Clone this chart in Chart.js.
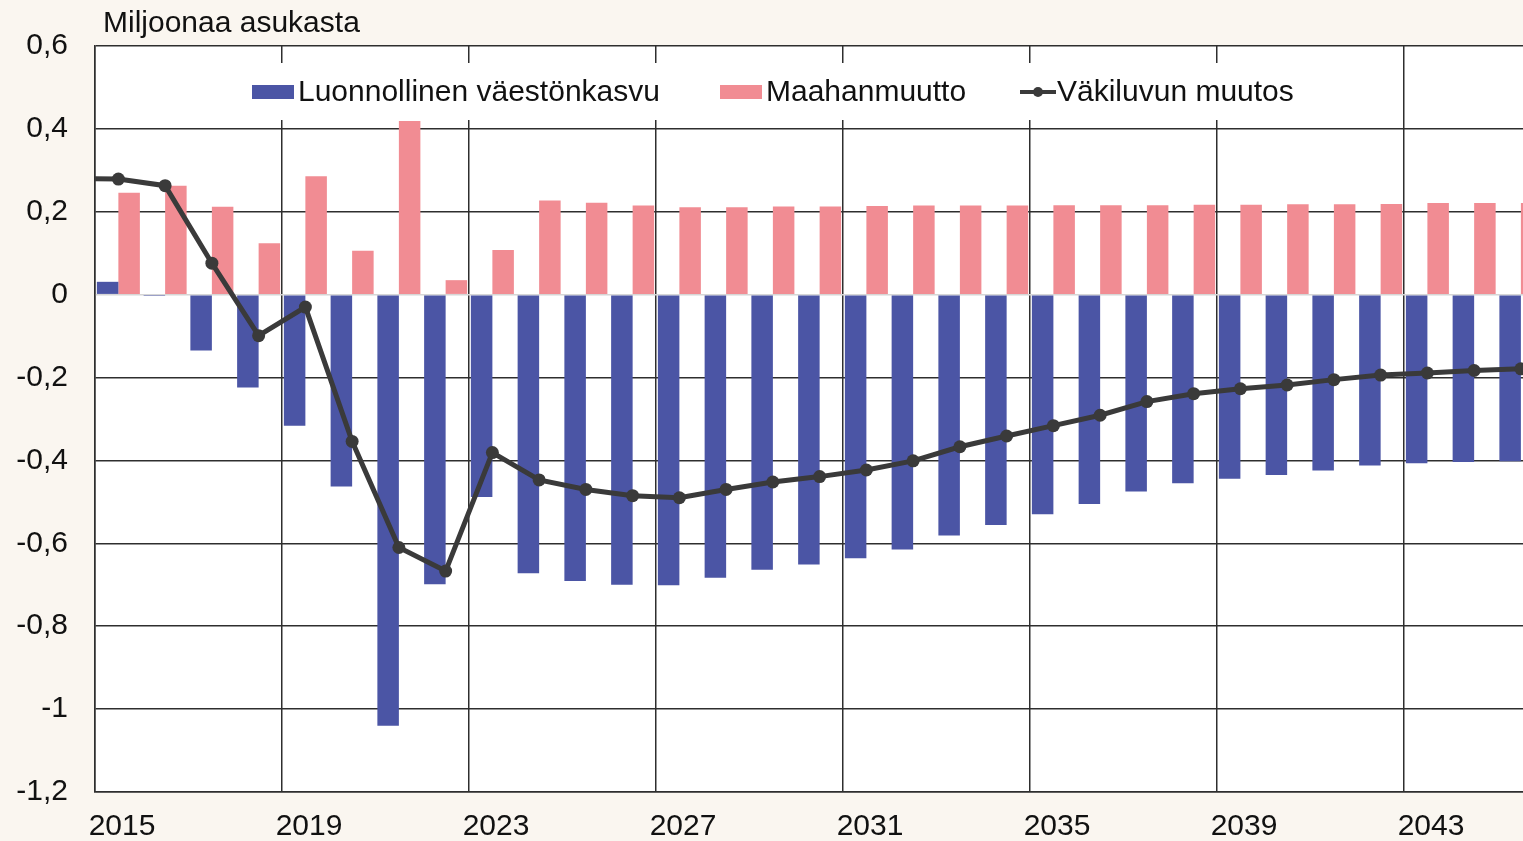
<!DOCTYPE html>
<html lang="fi">
<head>
<meta charset="UTF-8">
<title>Väkiluvun muutos</title>
<script src="https://cdn.jsdelivr.net/npm/chart.js"></script>
<style>
    html, body {
        margin: 0;
        padding: 0;
        overflow: hidden;
        background: #faf6f0;
    }
    .chartBox {
        width: 1523px;
        height: 841px;
    }
</style>
</head>
<body>
<div class="chartBox">
    <canvas id="chart"></canvas>
</div>
<script>
    // data (milj. asukasta)
    const years = [2015, 2016, 2017, 2018, 2019, 2020, 2021, 2022, 2023, 2024, 2025, 2026, 2027, 2028, 2029, 2030,
        2031, 2032, 2033, 2034, 2035, 2036, 2037, 2038, 2039, 2040, 2041, 2042, 2043, 2044, 2045];
    const luonnollinen = [0.031, -0.003, -0.135, -0.224, -0.316, -0.463, -1.04, -0.699, -0.488, -0.672, -0.691,
        -0.7, -0.701, -0.683, -0.664, -0.651, -0.636, -0.615, -0.581, -0.556, -0.53, -0.505, -0.475, -0.455,
        -0.444, -0.435, -0.424, -0.412, -0.407, -0.404, -0.402];
    const maahanmuutto = [0.246, 0.263, 0.212, 0.124, 0.286, 0.106, 0.419, 0.035, 0.108, 0.227, 0.222,
        0.215, 0.211, 0.211, 0.213, 0.213, 0.214, 0.215, 0.215, 0.215, 0.216, 0.216, 0.216, 0.217,
        0.217, 0.218, 0.218, 0.219, 0.221, 0.221, 0.221];
    // line starts one year earlier (only its end shows at the left edge)
    const lineYears = [2014].concat(years);
    const muutos = [0.28, 0.279, 0.263, 0.076, -0.099, -0.03, -0.354, -0.61, -0.667, -0.381, -0.447, -0.47,
        -0.485, -0.49, -0.47, -0.452, -0.439, -0.423, -0.401, -0.367, -0.341, -0.316, -0.291, -0.258,
        -0.239, -0.227, -0.218, -0.205, -0.194, -0.189, -0.183, -0.179];
    const xTickYears = [2015, 2019, 2023, 2027, 2031, 2035, 2039, 2043];
    const yTicks = [0.6, 0.4, 0.2, 0, -0.2, -0.4, -0.6, -0.8, -1, -1.2];

    const FONT = "'Liberation Sans', Arial, sans-serif";
    const BLUE = "#4b55a5";
    const PINK = "#f18c93";
    const LINE = "#3a3a3a";
    const GRID = "#2e2e2e";

    const toPts = (xs, ys) => xs.map((x, i) => ({ x: x, y: ys[i] }));

    // white plot area + unit title
    const background = {
        id: "background",
        beforeDraw(chart) {
            const { ctx, chartArea: { left, top, width, height } } = chart;
            ctx.save();
            ctx.fillStyle = "#ffffff";
            ctx.fillRect(left, top, width, height);
            ctx.restore();
        },
        afterDraw(chart) {
            const { ctx } = chart;
            ctx.save();
            ctx.font = "30px " + FONT;
            ctx.fillStyle = "#111";
            ctx.textBaseline = "alphabetic";
            ctx.fillText("Miljoonaa asukasta", 103, 32);
            ctx.restore();
        }
    };

    // legend inside the plot, on a white box over the grid
    const insideLegend = {
        id: "insideLegend",
        beforeDatasetsDraw(chart) {
            const { ctx } = chart;
            ctx.save();
            ctx.fillStyle = "#ffffff";
            ctx.fillRect(240, 63, 1090, 57);
            ctx.font = "30px " + FONT;
            ctx.textBaseline = "middle";
            const y = 92;
            const items = [
                { x: 252, type: "box", color: BLUE, text: "Luonnollinen väestönkasvu" },
                { x: 720, type: "box", color: PINK, text: "Maahanmuutto" },
                { x: 1020, type: "line", color: LINE, text: "Väkiluvun muutos" }
            ];
            items.forEach(it => {
                if (it.type === "box") {
                    ctx.fillStyle = it.color;
                    ctx.fillRect(it.x, y - 7, 42, 14);
                } else {
                    ctx.strokeStyle = it.color;
                    ctx.lineWidth = 4;
                    ctx.beginPath();
                    ctx.moveTo(it.x, y);
                    ctx.lineTo(it.x + 36, y);
                    ctx.stroke();
                    ctx.fillStyle = it.color;
                    ctx.beginPath();
                    ctx.arc(it.x + 18, y, 5, 0, Math.PI * 2);
                    ctx.fill();
                }
                ctx.fillStyle = "#111";
                ctx.fillText(it.text, it.x + (it.type === "box" ? 46 : 37), y + 1);
            });
            ctx.restore();
        }
    };

    const config = {
        type: "bar",
        data: {
            datasets: [
                {
                    type: "line",
                    label: "Väkiluvun muutos",
                    data: toPts(lineYears, muutos),
                    borderColor: LINE,
                    backgroundColor: LINE,
                    borderWidth: 5,
                    pointRadius: 6.5,
                    pointHoverRadius: 6.5,
                    pointBackgroundColor: LINE,
                    pointBorderWidth: 0,
                    tension: 0,
                    order: 0
                },
                {
                    label: "Luonnollinen väestönkasvu",
                    data: toPts(years, luonnollinen),
                    backgroundColor: BLUE,
                    borderWidth: 0,
                    categoryPercentage: 0.92,
                    barPercentage: 1.0,
                    order: 1
                },
                {
                    label: "Maahanmuutto",
                    data: toPts(years, maahanmuutto),
                    backgroundColor: PINK,
                    borderWidth: 0,
                    categoryPercentage: 0.92,
                    barPercentage: 1.0,
                    order: 2
                }
            ]
        },
        options: {
            responsive: true,
            maintainAspectRatio: false,
            animation: false,
            devicePixelRatio: 1,
            layout: { autoPadding: false, padding: { top: 46, left: 0, right: 0, bottom: 0 } },
            plugins: {
                legend: { display: false },
                tooltip: { enabled: false },
                title: { display: false }
            },
            scales: {
                x: {
                    type: "linear",
                    min: 2014.5,
                    max: 2045.045,
                    offset: false,
                    afterBuildTicks(scale) {
                        scale.ticks = xTickYears.map(v => ({ value: v - 0.5 }));
                    },
                    afterFit(scale) {
                        scale.height = 49;
                        scale.paddingLeft = 0;
                        scale.paddingRight = 0;
                    },
                    ticks: {
                        autoSkip: false,
                        maxRotation: 0,
                        labelOffset: 27,
                        padding: 17,
                        color: "#111",
                        font: { family: FONT, size: 30 },
                        callback: v => String(v + 0.5)
                    },
                    grid: {
                        offset: false,
                        color: GRID,
                        lineWidth: 1.5,
                        drawTicks: false
                    },
                    border: { display: true, color: GRID, width: 1.5 }
                },
                y: {
                    min: -1.2,
                    max: 0.6,
                    afterBuildTicks(scale) {
                        scale.ticks = yTicks.map(v => ({ value: v }));
                    },
                    afterFit(scale) {
                        scale.width = 95;
                    },
                    ticks: {
                        padding: 27,
                        color: "#111",
                        font: { family: FONT, size: 30 },
                        callback: v => String(Math.round(v * 10) / 10).replace(".", ",")
                    },
                    grid: {
                        color: ctx => (ctx.tick && Math.abs(ctx.tick.value) < 1e-9) ? "#d6d6d6" : GRID,
                        lineWidth: 1.5,
                        drawTicks: false
                    },
                    border: { display: true, color: GRID, width: 1.5 }
                }
            }
        },
        plugins: [background, insideLegend]
    };

    new Chart(document.getElementById("chart"), config);
</script>
</body>
</html>
